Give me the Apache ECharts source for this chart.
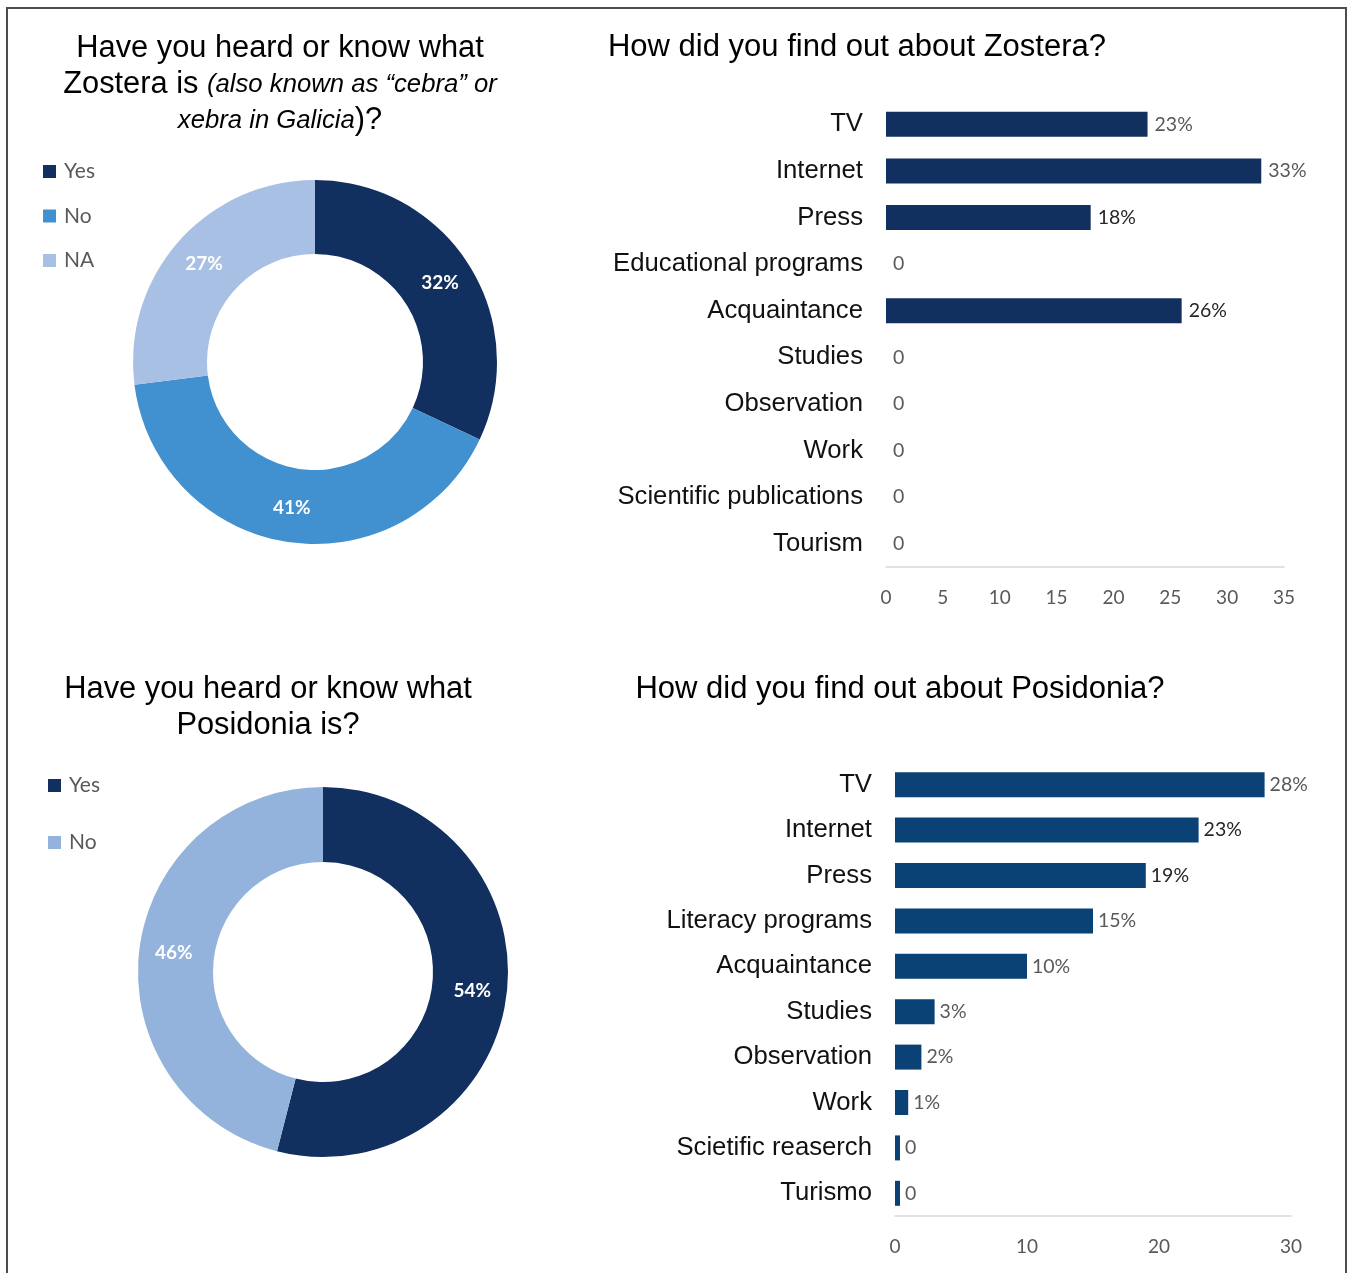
<!DOCTYPE html>
<html>
<head>
<meta charset="utf-8">
<title>Zostera and Posidonia survey</title>
<script src="https://cdn.jsdelivr.net/npm/echarts@6/dist/echarts.min.js"></script>
<style>
  html, body { margin: 0; padding: 0; background: #ffffff; }
  #chart { width: 1349px; height: 1273px; }
</style>
</head>
<body>
<div id="chart"></div>
<script>
// Awareness of Zostera (percent of respondents)
const zosteraAwareNames = ['Yes', 'No', 'NA'];
const zosteraAwareValues = [32, 41, 27];

// Awareness of Posidonia (percent of respondents)
const posidoniaAwareNames = ['Yes', 'No'];
const posidoniaAwareValues = [54, 46];

// How respondents found out about Zostera
const zosteraSources = ['TV', 'Internet', 'Press', 'Educational programs', 'Acquaintance',
  'Studies', 'Observation', 'Work', 'Scientific publications', 'Tourism'];
const zosteraSourceValues = [23, 33, 18, 0, 26, 0, 0, 0, 0, 0];
const zosteraTicks = [0, 5, 10, 15, 20, 25, 30, 35];

// How respondents found out about Posidonia
const posidoniaSources = ['TV', 'Internet', 'Press', 'Literacy programs', 'Acquaintance',
  'Studies', 'Observation', 'Work', 'Scietific reaserch', 'Turismo'];
const posidoniaSourceValues = [28, 23, 19, 15, 10, 3, 2, 1, 0, 0];
const posidoniaTicks = [0, 10, 20, 30];

// Value labels printed in a darker tone
const darkLabelsZostera = ['Press', 'Acquaintance'];
const darkLabelsPosidonia = ['Internet', 'Press'];

const NAVY = '#12305f';
const MID_BLUE = '#4190cf';
const PALE_BLUE = '#a8c0e3';
const SOFT_BLUE = '#93b3dc';
const BAR_BOTTOM = '#0b4275';
const GREY_TXT = '#595959';
const DARK_TXT = '#262626';

const sans = '"Liberation Sans", Arial, sans-serif';
const calib = 'Lato, "Open Sans", sans-serif';

const zosteraColors = [NAVY, MID_BLUE, PALE_BLUE];
const posidoniaColors = [NAVY, SOFT_BLUE];

function pieData(names, values, colors) {
  return names.map((n, i) => ({ name: n, value: values[i], itemStyle: { color: colors[i] } }));
}
function legendData(names, colors) {
  return names.map((n, i) => ({ name: n, itemStyle: { color: colors[i] } }));
}
function barData(cats, values, darkSet) {
  return values.map((v, i) => ({
    value: v,
    label: { color: darkSet.includes(cats[i]) ? DARK_TXT : GREY_TXT }
  }));
}

const titleRich = {
  n: { fontFamily: sans, fontSize: 30.8, fontWeight: 'normal', color: '#000', lineHeight: 36 },
  i: { fontFamily: sans, fontSize: 25.7, fontWeight: 'normal', fontStyle: 'italic', color: '#000', lineHeight: 36 }
};

const chart = echarts.init(document.getElementById('chart'), null, { renderer: 'canvas' });

const valueAxisCommon = {
  type: 'value',
  axisLine: { show: false },
  axisTick: { show: false },
  splitLine: { show: false },
  axisLabel: { fontFamily: calib, fontSize: 19, color: GREY_TXT, margin: 21 }
};
const catAxisCommon = {
  type: 'category',
  inverse: true,
  axisLine: { show: false },
  axisTick: { show: false },
  axisLabel: { fontFamily: sans, fontSize: 25.7, color: '#111', margin: 23 }
};

chart.setOption({
  animation: false,
  backgroundColor: '#ffffff',
  title: [
    {
      text: '{n|Have you heard or know what}\n{n|Zostera is }{i|(also known as “cebra” or}\n{i|xebra in Galicia}{n|)?}',
      left: 275, top: 26, textAlign: 'center',
      textStyle: { rich: titleRich, align: 'center', fontWeight: 'normal' }
    },
    {
      text: 'How did you find out about Zostera?',
      left: 852, top: 27, textAlign: 'center',
      textStyle: { fontFamily: sans, fontSize: 31, fontWeight: 'normal', color: '#000' }
    },
    {
      text: '{n|Have you heard or know what}\n{n|Posidonia is?}',
      left: 263, top: 667, textAlign: 'center',
      textStyle: { rich: titleRich, align: 'center', fontWeight: 'normal' }
    },
    {
      text: 'How did you find out about Posidonia?',
      left: 895, top: 669, textAlign: 'center',
      textStyle: { fontFamily: sans, fontSize: 31, fontWeight: 'normal', color: '#000' }
    }
  ],
  legend: [
    {
      orient: 'vertical', left: 43, top: 161, padding: 0,
      itemWidth: 13, itemHeight: 13, itemGap: 23.5, icon: 'rect',
      selectedMode: false,
      data: legendData(zosteraAwareNames, zosteraColors),
      textStyle: { fontFamily: calib, fontSize: 21, color: GREY_TXT, lineHeight: 21, padding: [0, 0, 0, 3] }
    },
    {
      orient: 'vertical', left: 48, top: 775, padding: 0,
      itemWidth: 13, itemHeight: 13, itemGap: 36, icon: 'rect',
      selectedMode: false,
      data: legendData(posidoniaAwareNames, posidoniaColors),
      textStyle: { fontFamily: calib, fontSize: 21, color: GREY_TXT, lineHeight: 21, padding: [0, 0, 0, 3] }
    }
  ],
  grid: [
    { left: 886, top: 101, width: 398, height: 466 },
    { left: 895, top: 762, width: 396, height: 454 }
  ],
  xAxis: [
    Object.assign({}, valueAxisCommon, {
      gridIndex: 0, min: zosteraTicks[0], max: zosteraTicks[zosteraTicks.length - 1], interval: 5,
      axisLine: { show: true, lineStyle: { color: '#d9d9d9', width: 1.5 } }
    }),
    Object.assign({}, valueAxisCommon, {
      gridIndex: 1, min: posidoniaTicks[0], max: posidoniaTicks[posidoniaTicks.length - 1], interval: 10,
      axisLine: { show: true, lineStyle: { color: '#d9d9d9', width: 1.5 } }
    })
  ],
  yAxis: [
    Object.assign({}, catAxisCommon, { gridIndex: 0, data: zosteraSources }),
    Object.assign({}, catAxisCommon, { gridIndex: 1, data: posidoniaSources })
  ],
  series: [
    {
      type: 'pie',
      name: 'Zostera awareness',
      center: [315, 362], radius: [108, 182],
      startAngle: 90, clockwise: true,
      avoidLabelOverlap: false,
      emphasis: { disabled: true },
      itemStyle: { borderWidth: 0 },
      label: {
        position: 'inside', formatter: '{c}%',
        fontFamily: calib, fontWeight: 'bold', fontSize: 19, color: '#ffffff'
      },
      labelLine: { show: false },
      data: pieData(zosteraAwareNames, zosteraAwareValues, zosteraColors)
    },
    {
      type: 'pie',
      name: 'Posidonia awareness',
      center: [323, 972], radius: [110, 185],
      startAngle: 90, clockwise: true,
      avoidLabelOverlap: false,
      emphasis: { disabled: true },
      itemStyle: { borderWidth: 0 },
      label: {
        position: 'inside', formatter: '{c}%',
        fontFamily: calib, fontWeight: 'bold', fontSize: 19, color: '#ffffff'
      },
      labelLine: { show: false },
      data: pieData(posidoniaAwareNames, posidoniaAwareValues, posidoniaColors)
    },
    {
      type: 'bar',
      name: 'Zostera sources',
      xAxisIndex: 0, yAxisIndex: 0,
      barWidth: 25,
      itemStyle: { color: NAVY },
      label: {
        show: true, position: 'right', distance: 7,
        fontFamily: calib, fontSize: 19.5,
        formatter: p => (p.value === 0 ? '0' : p.value + '%')
      },
      data: barData(zosteraSources, zosteraSourceValues, darkLabelsZostera)
    },
    {
      type: 'bar',
      name: 'Posidonia sources',
      xAxisIndex: 1, yAxisIndex: 1,
      barWidth: 25,
      barMinHeight: 5,
      itemStyle: { color: BAR_BOTTOM },
      label: {
        show: true, position: 'right', distance: 5,
        fontFamily: calib, fontSize: 19.5,
        formatter: p => (p.value === 0 ? '0' : p.value + '%')
      },
      data: barData(posidoniaSources, posidoniaSourceValues, darkLabelsPosidonia)
    }
  ],
  graphic: [
    {
      type: 'rect',
      shape: { x: 7, y: 8, width: 1339, height: 1320 },
      style: { fill: 'none', stroke: '#4d4d4d', lineWidth: 2 },
      silent: true
    }
  ]
});
</script>
</body>
</html>
